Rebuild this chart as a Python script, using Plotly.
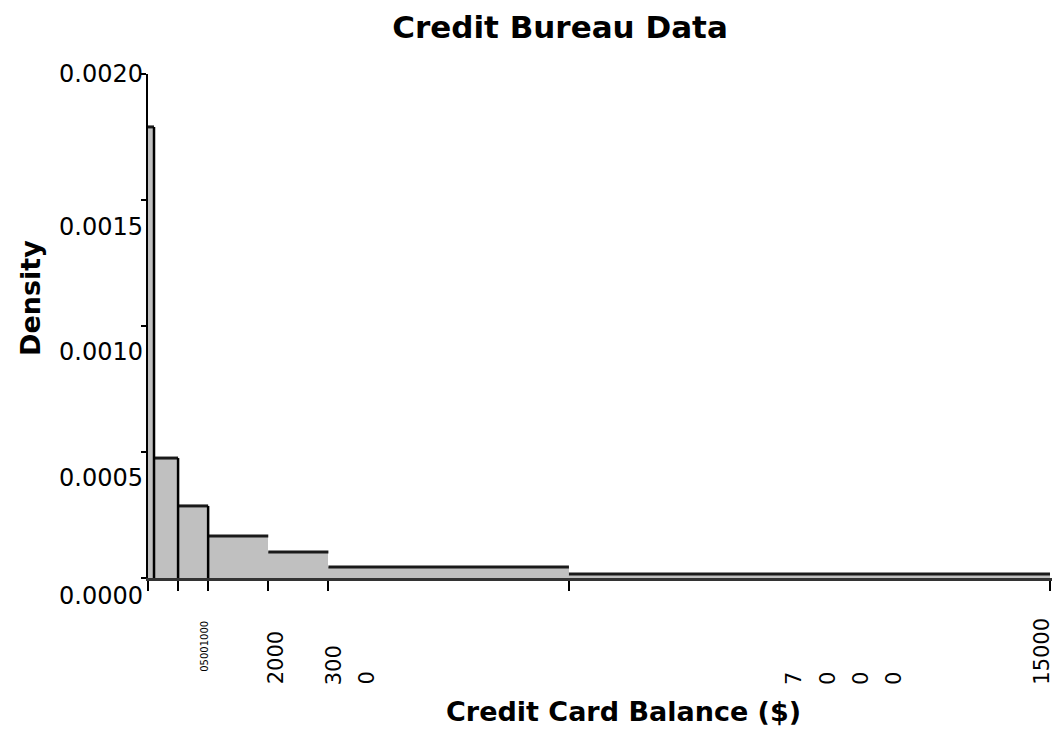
import plotly.graph_objects as go

# ---- data ----
bin_edges = [0, 100, 500, 1000, 2000, 3000, 7000, 15000]
densities = [0.00179, 0.000476, 0.000286, 0.000167, 0.000103, 0.0000437, 0.0000159]
x_tick_values = [0, 500, 1000, 2000, 3000, 7000, 15000]
y_tick_values = [0.0, 0.0005, 0.0010, 0.0015, 0.0020]
y_tick_labels = ["0.0000", "0.0005", "0.0010", "0.0015", "0.0020"]
# x tick labels as rendered in the reference (wrapped / squeezed)
x_label_texts = ["05001000", "2000", "300", "0", "7", "0", "0", "0", "15000"]
x_label_values = [1000, 2000, 3000, 3000, 7000, 7000, 7000, 7000, 15000]

# ---- layout helpers (positions / styles) ----
x_label_shift = [-4, 8, 6, 39, 225, 259, 292, 325, -8]
x_label_size = [10, 21, 21, 21, 21, 21, 21, 21, 21]
x_label_bottom = [-96, -109, -109, -109, -109, -109, -109, -109, -109]
y_label_shift = [-18, -26, -26, -27, 0]
n_edged_bins = 3  # the reference draws vertical outlines only for the first bins

FONT = "DejaVu Sans"
W, H = 1052, 726  # page body has an 8px margin

centers = [(a + b) / 2 for a, b in zip(bin_edges[:-1], bin_edges[1:])]
widths = [b - a for a, b in zip(bin_edges[:-1], bin_edges[1:])]

fig = go.Figure()
fig.add_trace(go.Bar(
    x=centers, y=densities, width=widths,
    marker=dict(color="#c0c0c0", line=dict(width=0)),
    hoverinfo="x+y", showlegend=False,
))

# top outlines of every bin
top_x, top_y = [], []
for a, b, d in zip(bin_edges[:-1], bin_edges[1:], densities):
    top_x += [a, b, None]
    top_y += [d, d, None]
fig.add_trace(go.Scatter(x=top_x, y=top_y, mode="lines",
                         line=dict(color="#1a1a1a", width=3),
                         hoverinfo="skip", showlegend=False))
# vertical right edges of the first bins
side_x, side_y = [], []
for b, d in zip(bin_edges[1:1 + n_edged_bins], densities[:n_edged_bins]):
    side_x += [b, b, None]
    side_y += [0, d, None]
fig.add_trace(go.Scatter(x=side_x, y=side_y, mode="lines",
                         line=dict(color="black", width=2.5),
                         hoverinfo="skip", showlegend=False))

annotations = []
for txt, v, dx, sz, yb in zip(x_label_texts, x_label_values, x_label_shift, x_label_size, x_label_bottom):
    annotations.append(dict(
        x=v, xref="x", y=0, yref="paper", text=txt, showarrow=False,
        textangle=-90, xanchor="center", yanchor="top", xshift=dx,
        yshift=yb + (len(txt) * sz * 0.636 + 4),
        font=dict(family=FONT, size=sz, color="black"),
    ))
for v, txt, dy in zip(y_tick_values, y_tick_labels, y_label_shift):
    annotations.append(dict(
        x=0, xref="paper", y=v, yref="y", text=txt, showarrow=False,
        xanchor="right", yanchor="middle", xshift=-3, yshift=dy,
        font=dict(family=FONT, size=24, color="black"),
    ))
# axis titles
annotations.append(dict(
    x=0.5, xref="paper", y=0, yref="paper", text="<b>Credit Card Balance ($)</b>",
    showarrow=False, xanchor="center", yanchor="middle", xshift=22, yshift=-133,
    font=dict(family=FONT, size=27, color="black"),
))
annotations.append(dict(
    x=0, xref="paper", y=0.5, yref="paper", text="<b>Density</b>",
    showarrow=False, textangle=-90, xanchor="center", yanchor="middle",
    xshift=-118, yshift=28,
    font=dict(family=FONT, size=27, color="black"),
))

fig.update_layout(
    width=W, height=H,
    margin=dict(l=140, r=5, t=66, b=156),
    plot_bgcolor="white", paper_bgcolor="white",
    font=dict(family=FONT, color="black"),
    bargap=0,
    title=dict(text="<b>Credit Bureau Data</b>", x=552 / W, xanchor="center",
               y=1 - 19 / H, yref="container", yanchor="middle",
               font=dict(family=FONT, size=31, color="black")),
    xaxis=dict(
        range=[0, 15083], tickmode="array", tickvals=x_tick_values,
        showticklabels=False, ticks="outside", ticklen=10, tickwidth=2, tickcolor="black",
        showline=True, linecolor="#333333", linewidth=3, showgrid=False, zeroline=False,
    ),
    yaxis=dict(
        range=[0, 0.002], tickmode="array", tickvals=y_tick_values,
        showticklabels=False, ticks="outside", ticklen=5, tickwidth=2, tickcolor="black",
        showline=True, linecolor="black", linewidth=2, showgrid=False, zeroline=False,
    ),
    annotations=annotations,
)

fig.write_html("out.html")
